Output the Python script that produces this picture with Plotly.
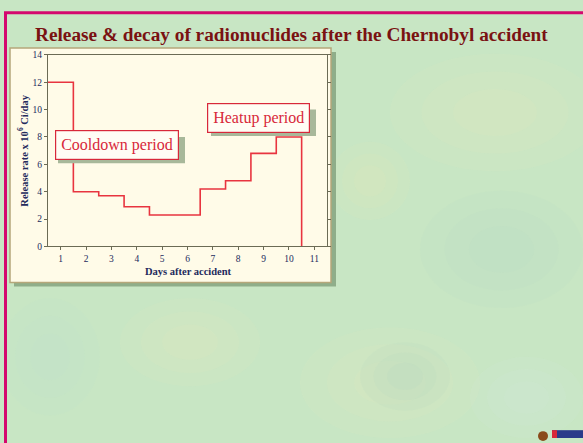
import plotly.graph_objects as go

W, H = 583, 443

# ---- data ----
step_start_days = [0.5, 1.5, 2.5, 3.5, 4.5, 6.5, 7.5, 8.5, 9.5]
release_rates = [12.0, 4.0, 3.7, 2.9, 2.3, 4.2, 4.8, 6.8, 8.0]
end_day = 10.5
x_ticks = [1, 2, 3, 4, 5, 6, 7, 8, 9, 10, 11]
y_ticks = [0, 2, 4, 6, 8, 10, 12, 14]

def px(x):
    return x / W

def py(y):
    return 1 - y / H

fig = go.Figure()
fig.add_trace(go.Scatter(
    x=step_start_days + [end_day, end_day],
    y=release_rates + [release_rates[-1], 0],
    mode="lines", line=dict(color="#e8343f", width=1.6, shape="hv"),
    hoverinfo="skip", showlegend=False,
))

serif = "Liberation Serif, Times New Roman, serif"
navy = "#232a5c"

shapes = []
# soft mottled background blobs (several nested, faint)
blobs = [
    (390, 50, 600, 170, "228,236,190"),
    (330, 140, 410, 220, "226,232,182"),
    (420, 190, 583, 310, "185,222,200"),
    (120, 300, 260, 390, "226,234,188"),
    (300, 330, 480, 443, "226,234,192"),
    (360, 345, 450, 415, "178,216,188"),
    (0, 300, 100, 420, "192,226,206"),
    (470, 360, 583, 443, "210,234,218"),
]
for (x0, y0, x1, y1, rgb) in blobs:
    for k in range(3):
        dx = (x1 - x0) * 0.15 * k
        dy = (y1 - y0) * 0.15 * k
        shapes.append(dict(type="circle", xref="paper", yref="paper",
                           x0=px(x0 + dx), x1=px(x1 - dx), y0=py(y1 - dy), y1=py(y0 + dy),
                           line=dict(width=0), fillcolor=f"rgba({rgb},0.14)", layer="below"))
# magenta slide border
shapes.append(dict(type="rect", xref="paper", yref="paper", x0=px(5.5), x1=px(620),
                   y0=py(480), y1=py(8), line=dict(color="#d4086e", width=3), layer="below"))
# panel shadow
shapes.append(dict(type="rect", xref="paper", yref="paper", x0=px(14), x1=px(336),
                   y0=py(288), y1=py(48), line=dict(width=0), fillcolor="#8fae8a", layer="below"))
# panel
shapes.append(dict(type="rect", xref="paper", yref="paper", x0=px(10), x1=px(331),
                   y0=py(284), y1=py(44), line=dict(color="#b5a77a", width=1.5),
                   fillcolor="#fffbe8", layer="below"))
# label box shadows
shapes.append(dict(type="rect", xref="paper", yref="paper", x0=px(58), x1=px(185),
                   y0=py(162), y1=py(135), line=dict(width=0), fillcolor="#a8b89a", layer="above"))
shapes.append(dict(type="rect", xref="paper", yref="paper", x0=px(211), x1=px(316),
                   y0=py(134), y1=py(107), line=dict(width=0), fillcolor="#a8b89a", layer="above"))
# small logo marks bottom right
shapes.append(dict(type="circle", xref="paper", yref="paper", x0=px(538), x1=px(548),
                   y0=py(446), y1=py(436), line=dict(width=0), fillcolor="#8a4a1a", layer="above"))
shapes.append(dict(type="rect", xref="paper", yref="paper", x0=px(552), x1=px(583),
                   y0=py(443), y1=py(435), line=dict(width=0), fillcolor="#2a3a8a", layer="above"))
shapes.append(dict(type="rect", xref="paper", yref="paper", x0=px(552), x1=px(557),
                   y0=py(443), y1=py(435), line=dict(width=0), fillcolor="#d8283a", layer="above"))

annotations = [
    dict(text="<b>Release &amp; decay of radionuclides after the Chernobyl accident</b>",
         xref="paper", yref="paper", x=px(291), y=py(30), showarrow=False,
         font=dict(family=serif, size=19.3, color="#7a1212"), xanchor="center", yanchor="middle"),
    dict(text="<b>Release rate x 10<sup>6</sup> Ci/day</b>", textangle=-90,
         xref="paper", yref="paper", x=px(23), y=py(149), showarrow=False,
         font=dict(family=serif, size=10.5, color=navy), xanchor="center", yanchor="middle"),
    dict(text="<b>Days after accident</b>",
         xref="paper", yref="paper", x=px(188), y=py(273), showarrow=False,
         font=dict(family=serif, size=10.5, color=navy), xanchor="center", yanchor="middle"),
    dict(text="Cooldown period", xref="paper", yref="paper", x=px(116.5), y=py(143.5),
         showarrow=False, font=dict(family=serif, size=16, color="#d8283a"),
         bgcolor="#fffdf4", bordercolor="#d8283a", borderwidth=1.2, borderpad=5,
         xanchor="center", yanchor="middle"),
    dict(text="Heatup period", xref="paper", yref="paper", x=px(258.5), y=py(115.5),
         showarrow=False, font=dict(family=serif, size=16, color="#d8283a"),
         bgcolor="#fffdf4", bordercolor="#d8283a", borderwidth=1.2, borderpad=5,
         xanchor="center", yanchor="middle"),
]

axis_common = dict(showgrid=False, zeroline=False, showline=True, linecolor="#6b6b55",
                   linewidth=1, ticks="outside", ticklen=3,
                   tickcolor="#6b6b55", tickfont=dict(family=serif, size=9.5, color=navy))

fig.update_layout(
    width=W, height=H, margin=dict(l=0, r=0, t=0, b=0),
    paper_bgcolor="#c8e6c4", plot_bgcolor="rgba(0,0,0,0)",
    shapes=shapes, annotations=annotations, hovermode=False,
    xaxis=dict(domain=[px(48), px(327)], range=[0.5, 11.5], tickvals=x_ticks,
               mirror=True, **axis_common),
    yaxis=dict(domain=[py(247), py(51)], range=[0, 14], tickvals=y_ticks,
               mirror="ticks", **axis_common),
)

fig.write_html("out.html", config={"displayModeBar": False, "staticPlot": True},
               post_script="document.body.style.margin='0';document.body.style.overflow='hidden';")
